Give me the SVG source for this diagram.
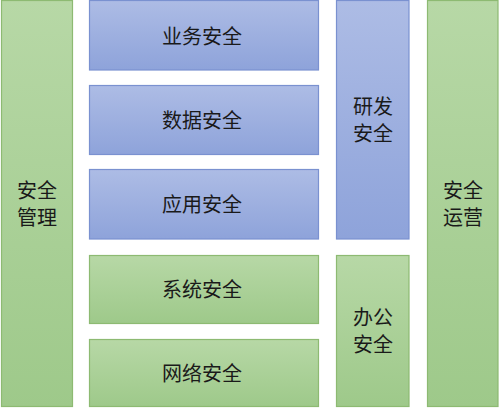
<svg xmlns="http://www.w3.org/2000/svg" width="499" height="408" viewBox="0 0 499 408">
<defs>
<linearGradient id="gb" x1="0" y1="0" x2="0" y2="1"><stop offset="0" stop-color="#adbce5"/><stop offset="1" stop-color="#8ea3da"/></linearGradient>
<linearGradient id="gg" x1="0" y1="0" x2="0" y2="1"><stop offset="0" stop-color="#b7d8a6"/><stop offset="1" stop-color="#9ec98a"/></linearGradient>
<style>
.b{fill:url(#gb);stroke:#7a91d0;stroke-width:1.2}
.g{fill:url(#gg);stroke:#8dba72;stroke-width:1.2}
text{font-family:"Noto Sans CJK SC","Noto Sans CJK JP",sans-serif;font-size:20px;fill:#1a1a1a;text-anchor:middle}
</style>
</defs>
<rect width="499" height="408" fill="#ffffff"/>
<g id="anquan-guanli"><rect class="g" x="1.5" y="0.5" width="71" height="406"/><text x="37" y="198">安全<tspan x="37" dy="27">管理</tspan></text></g>
<g id="yewu"><rect class="b" x="89.5" y="0.5" width="229" height="69.5"/><text x="202" y="44">业务安全</text></g>
<g id="shuju"><rect class="b" x="89.5" y="85.5" width="229" height="69"/><text x="202" y="128">数据安全</text></g>
<g id="yingyong"><rect class="b" x="89.5" y="169.5" width="229" height="69.5"/><text x="202" y="212">应用安全</text></g>
<g id="xitong"><rect class="g" x="89.5" y="255.5" width="229" height="68"/><text x="202" y="297">系统安全</text></g>
<g id="wangluo"><rect class="g" x="89.5" y="339.5" width="229" height="67"/><text x="202" y="381">网络安全</text></g>
<g id="yanfa"><rect class="b" x="336.5" y="0.5" width="72.5" height="238.5"/><text x="373" y="114">研发<tspan x="373" dy="27">安全</tspan></text></g>
<g id="bangong"><rect class="g" x="336.5" y="255.5" width="72.5" height="151"/><text x="373" y="325">办公<tspan x="373" dy="27">安全</tspan></text></g>
<g id="anquan-yunying"><rect class="g" x="427.5" y="0.5" width="70.5" height="406"/><text x="463" y="198">安全<tspan x="463" dy="27">运营</tspan></text></g>
<g id="connectors"></g>
</svg>
